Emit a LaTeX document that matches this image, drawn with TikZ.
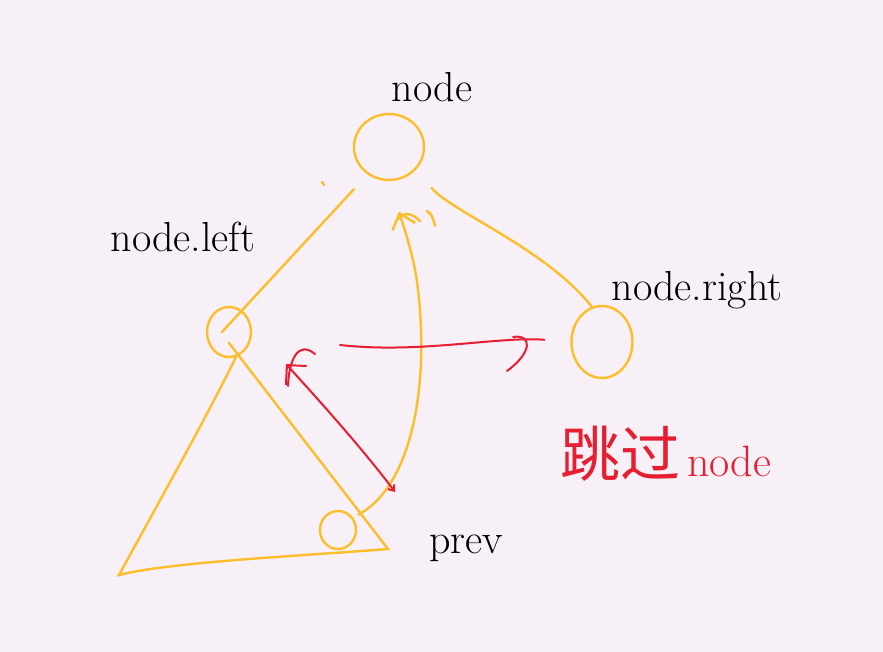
\documentclass[tikz,border=0pt]{standalone}
\usepackage{fontspec}
\usepackage{tikz}
\usetikzlibrary{shapes.geometric,arrows.meta}
\newfontfamily\cjkfont{Noto Sans CJK SC}
\definecolor{pen}{RGB}{252,190,42}
\definecolor{redpen}{RGB}{230,30,50}
\definecolor{paper}{RGB}{247,240,246}

\begin{document}
\begin{tikzpicture}[x=0.5pt,y=-0.5pt,
                    ring/.style={draw=pen,line width=1.2pt,ellipse,inner sep=0pt},
                    edge/.style={draw=pen,line width=1.2pt,line cap=round},
                    redge/.style={draw=redpen,line width=1pt,line cap=round},
                    lbl/.style={font=\fontsize{21}{25}\selectfont,anchor=base}
                ]

                % The paper
                \fill[paper] (0,0) rectangle (883,652);
                \useasboundingbox (0,0) rectangle (883,652);

                % The circles
                \node[ring,minimum width=35pt,minimum height=33pt] (n) at (389,147) {};
                \node[ring,minimum width=22pt,minimum height=25pt] (nl) at (229,332) {};
                \node[ring,minimum width=30.5pt,minimum height=36pt] (nr) at (602,342) {};
                \node[ring,minimum width=18pt,minimum height=19pt] (p) at (338,530) {};

                % The edges
                \draw[edge,shorten <=10pt] (n.232) -- ([xshift=-3.5pt]nl.center);
                \draw[edge,shorten <=12pt] (n.320) .. controls (452,212) and (545,248) .. (nr.106);
                \draw[edge] (322,182) -- (324,185);

                % The left subtree
                \draw[edge] (229,343) -- (388,549) .. controls (300,556) and (170,562) .. (119,575)
                    .. controls (160,500) and (205,420) .. (236,357);

                % prev back to node
                \draw[edge,-{Straight Barb[length=7pt,width=12pt]},shorten <=3pt,shorten >=16pt]
                    (p.40) .. controls (405,490) and (424,410) .. (421,330)
                    .. controls (419,280) and (414,258) .. (n.south);
                \draw[edge] (397,220) .. controls (404,211) and (412,213) .. (420,221);
                \draw[edge] (427,211) .. controls (432,215) .. (435,226);

                % The red arrows
                \coordinate (rb) at (395,492);
                \coordinate (rt) at (286,364);
                \coordinate (rs) at (340,345);
                \draw[redge,{Straight Barb[length=2.5pt,width=4pt]}-{Straight Barb[length=7pt,width=14pt]}]
                    (rb) .. controls (360,445) and (305,385) .. (rt);
                \draw[redge] (288,386) .. controls (289,360) and (298,340) .. (315,354);
                \draw[redge,shorten >=13pt] (rs) .. controls (420,354) and (500,336) .. (nr.west);
                \draw[redge] (513,337) .. controls (532,334) and (533,352) .. (507,371);

                % The labels
                \node[lbl] (tn) at (432,102) {node};
                \node[lbl] (tl) at (183,252) {node.left};
                \node[lbl] (tr) at (697,300) {node.right};
                \node[lbl] (tp) at (466,553) {prev};
                \node[lbl,anchor=base west,text=redpen] (tj) at (553,476)
                    {{\cjkfont\fontsize{30}{34}\selectfont 跳过}\,{\fontsize{22}{26}\selectfont node}};
            \end{tikzpicture}
\end{document}
